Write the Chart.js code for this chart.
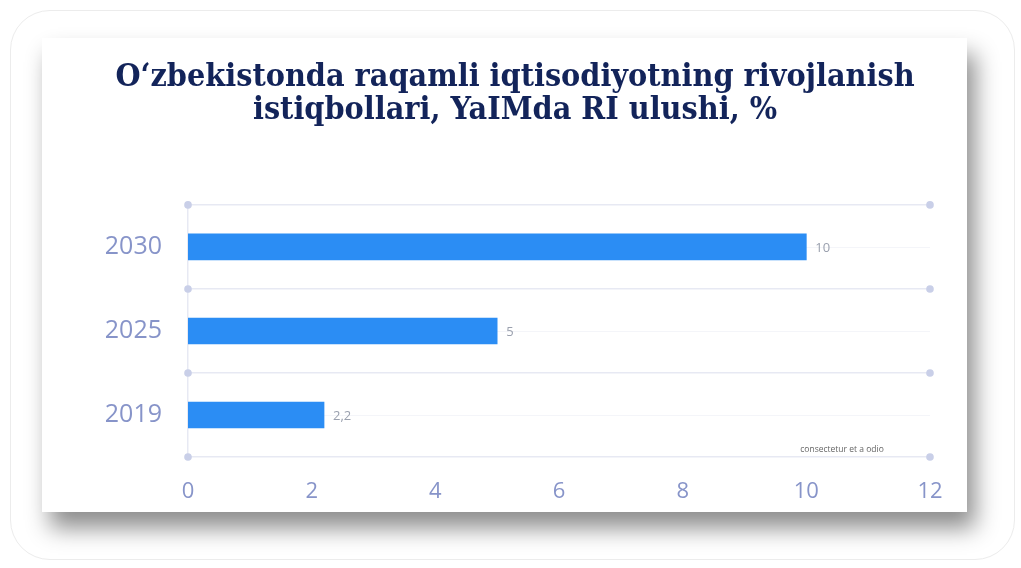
<!DOCTYPE html>
<html>
<head>
<meta charset="utf-8">
<script src="https://cdn.jsdelivr.net/npm/chart.js@4"></script>
<style>
  body { margin: 0; background: #fff; width: 1021px; height: 568px; overflow: hidden; position: relative; }
  .frame { position: absolute; left: 10px; top: 10px; width: 1003px; height: 548px; border: 1px solid #ececec; border-radius: 40px; }
  .card { position: absolute; left: 42px; top: 38px; width: 925px; height: 474px; background: #fff;
          box-shadow: 8px 16px 22px rgba(0,0,0,0.45); }
</style>
</head>
<body>
<div class="frame"></div>
<div class="card"><canvas id="barChart" width="925" height="474"></canvas></div>
<script>
const years = ["2030", "2025", "2019"];
const shares = [10, 5, 2.2];
const xTicks = [0, 2, 4, 6, 8, 10, 12];
const chartTitle = ["O‘zbekistonda raqamli iqtisodiyotning rivojlanish", "istiqbollari, YaIMda RI ulushi, %"];
const note = "consectetur et a odio";

const axisColor = "#8794c9";
const gridColor = "#e7e9f3";

// dots at both ends of each grid line, faint centre lines, value labels
const extras = {
    id: "extras",
    beforeDatasetsDraw(chart) {
        const { ctx, chartArea } = chart;
        const y = chart.scales.y;
        ctx.save();
        ctx.strokeStyle = "#f4f5f9";
        ctx.lineWidth = 1;
        years.forEach((_, i) => {
            const py = Math.round(y.getPixelForValue(i)) + 0.5;
            ctx.beginPath();
            ctx.moveTo(chartArea.left, py);
            ctx.lineTo(chartArea.right, py);
            ctx.stroke();
        });
        ctx.restore();
    },
    afterDatasetsDraw(chart) {
        const { ctx, chartArea } = chart;
        const y = chart.scales.y;
        const band = (y.bottom - y.top) / years.length;
        ctx.save();
        ctx.fillStyle = "#c9cfe8";
        for (let k = 0; k <= years.length; k++) {
            const py = y.top + k * band;
            [chartArea.left, chartArea.right].forEach(px => {
                ctx.beginPath();
                ctx.arc(px, py, 3.8, 0, Math.PI * 2);
                ctx.fill();
            });
        }
        const meta = chart.getDatasetMeta(0);
        ctx.font = "13px 'Open Sans'";
        ctx.fillStyle = "#9aa0ae";
        ctx.textBaseline = "middle";
        meta.data.forEach((bar, i) => {
            ctx.fillText(String(shares[i]).replace(".", ","), bar.x + 9, bar.y + 1);
        });
        ctx.font = "8.5px 'Open Sans'";
        ctx.fillStyle = "#666";
        ctx.textAlign = "center";
        ctx.textBaseline = "bottom";
        ctx.fillText(note, chartArea.right - 88, chartArea.bottom - 3);
        ctx.restore();
    }
};

const ctx = document.getElementById("barChart");
const barChart = new Chart(ctx, {
    type: "bar",
    data: {
        labels: years,
        datasets: [{
            data: shares,
            backgroundColor: "#2b8df4",
            barThickness: 26
        }]
    },
    options: {
        indexAxis: "y",
        responsive: false,
        animation: false,
        layout: { padding: { left: 58, right: 37, top: 0, bottom: 0 } },
        plugins: {
            legend: { display: false },
            tooltip: { enabled: false },
            title: {
                display: true,
                text: chartTitle,
                color: "#13245a",
                font: { family: "'DejaVu Serif Condensed', 'Liberation Serif'", size: 32, weight: "bold", lineHeight: 1.03 },
                padding: { top: 23, bottom: 78 }
            }
        },
        scales: {
            x: {
                min: 0,
                max: 12,
                afterBuildTicks: scale => { scale.ticks = xTicks.map(v => ({ value: v })); },
                afterFit: scale => { scale.height = 55; },
                grid: { display: false, drawTicks: false },
                border: { display: false },
                ticks: { color: axisColor, padding: 22, font: { family: "'Open Sans'", size: 22 } }
            },
            y: {
                afterFit: scale => { scale.width = 88; },
                grid: { color: gridColor, lineWidth: 1.5, drawTicks: false },
                border: { color: gridColor, width: 1.5 },
                ticks: { color: axisColor, padding: 26, font: { family: "'Open Sans'", size: 25 } }
            }
        }
    },
    plugins: [extras]
});
</script>
</body>
</html>
